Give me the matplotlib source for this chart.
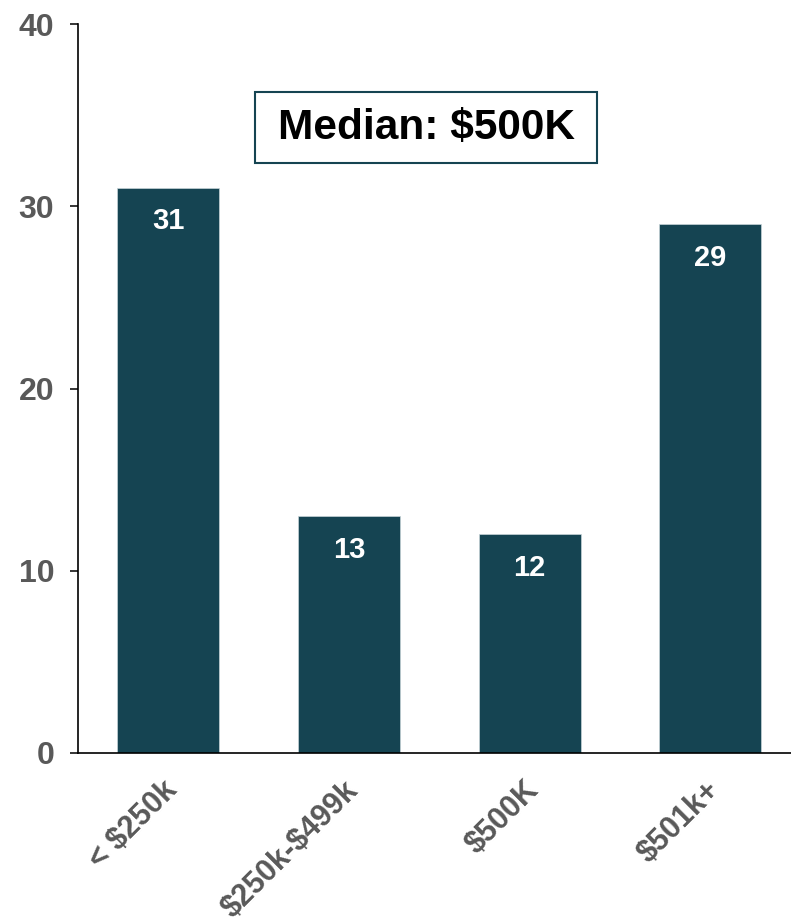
import matplotlib
matplotlib.use("Agg")
import matplotlib.pyplot as plt
from matplotlib.patches import Rectangle
from matplotlib.transforms import ScaledTranslation

categories = ["< $250k", "$250k-$499k", "$500K", "$501k+"]
values = [31, 13, 12, 29]
yticks = [0, 10, 20, 30, 40]
median_label = "Median: $500K"

plt.rcParams['font.family'] = ['Liberation Sans', 'DejaVu Sans']
plt.rcParams['text.parse_math'] = False

bar_color = "#154452"
gray = "#595959"
W, H = 791, 924

fig = plt.figure(figsize=(W/100, H/100), dpi=100)
ax = fig.add_axes([78/W, 171/H, 722.7/W, 729/H])

x = list(range(len(categories)))
ax.bar(x, values, width=0.565, color=bar_color, edgecolor="#c8d4d8", linewidth=0.5, zorder=2)

for xi, v in zip(x, values):
    ax.annotate(str(v), (xi, v), xytext=(0, -14), textcoords="offset points",
                ha="center", va="top", color="white", fontsize=21, fontweight="bold")

ax.set_xlim(-0.5, 3.5)
ax.set_ylim(0, 40)
ax.set_yticks(yticks)
ax.set_yticklabels([str(t) for t in yticks], fontsize=23, fontweight="bold", color=gray)
ax.set_xticks(x)
ax.set_xticklabels(categories, fontsize=22, fontweight="bold", color=gray,
                   rotation=45, ha="right", rotation_mode="anchor")
ax.tick_params(axis="y", length=6, width=1.1, pad=11, color="black")
ax.tick_params(axis="x", length=0, pad=16)
shift = ScaledTranslation(-6/100, 0, fig.dpi_scale_trans)
for lbl in ax.get_xticklabels():
    lbl.set_transform(lbl.get_transform() + shift)

for s in ["top", "right"]:
    ax.spines[s].set_visible(False)
for s in ["left", "bottom"]:
    ax.spines[s].set_linewidth(1.2)
    ax.spines[s].set_color("black")

# median annotation box
bx0, by0, bx1, by1 = 255, 92, 597, 163
fig.patches.append(Rectangle((bx0/W, 1 - by1/H), (bx1-bx0)/W, (by1-by0)/H,
                             transform=fig.transFigure, facecolor="white",
                             edgecolor=bar_color, linewidth=1.5, zorder=5))
fig.text((bx0+bx1)/2/W, 1 - (by0+by1)/2/H, median_label, ha="center", va="center",
         fontsize=30.5, fontweight="bold", color="black", zorder=6)

fig.savefig("out.png", dpi=100)
